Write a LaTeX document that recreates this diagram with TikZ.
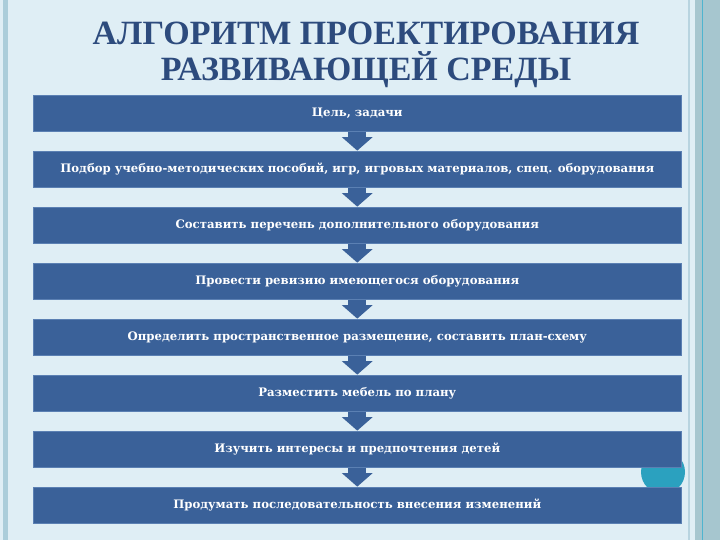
\documentclass[tikz,border=0pt]{standalone}
\usepackage{fontspec}
\setmainfont{DejaVu Serif}
\newfontfamily\titlefont{Liberation Serif}
\usetikzlibrary{arrows.meta}
\definecolor{bgc}{HTML}{DFEEF5}
\definecolor{boxc}{HTML}{3A6199}
\definecolor{boxedge}{HTML}{5B80B3}
\definecolor{titlec}{HTML}{2D4B7D}
\definecolor{stripc}{HTML}{ABCDDA}
\definecolor{sidec}{HTML}{A6C6CF}
\definecolor{tealc}{HTML}{4FB4CF}
\definecolor{circc}{HTML}{2BA1BF}
\tikzset{
  stepbox/.style={rectangle, fill=boxc, draw=boxedge, line width=0.7pt,
    minimum width=647.5pt, minimum height=36.5pt, inner sep=0pt,
    text=white, font=\fontsize{11.7}{13}\selectfont\bfseries},
  flowarrow/.style={draw=boxc, line width=18pt,
    -{Triangle[width=30pt,length=13.5pt]}, fill=boxc},
  titletext/.style={text=titlec, font=\titlefont\fontsize{34}{36}\selectfont\bfseries, inner sep=0pt, anchor=base}
}
\begin{document}
\begin{tikzpicture}[x=1pt,y=-1pt]
\useasboundingbox (0,0) rectangle (720,540);
% background
\fill[bgc] (0,0) rectangle (720,540);
\fill[stripc] (3.3,0) rectangle (8,540);
\fill[stripc!85!white] (688,0) rectangle (690,540);
\fill[sidec] (695,0) rectangle (702,540);
\fill[tealc] (702,0) rectangle (703.2,540);
\fill[sidec] (703.2,0) rectangle (720,540);
% decorative circle
\fill[circc] (663,472) circle (22);
% title
\node[titletext] (t1) at (366,45) {АЛГОРИТМ ПРОЕКТИРОВАНИЯ};
\node[titletext] (t2) at (366,81) {РАЗВИВАЮЩЕЙ СРЕДЫ};
% steps
\node[stepbox] (b1) at (357.25,113.25) {Цель, задачи};
\node[stepbox] (b2) at (357.25,169.25) {Подбор учебно-методических пособий, игр, игровых материалов, спец. оборудования};
\node[stepbox] (b3) at (357.25,225.25) {Составить перечень дополнительного оборудования};
\node[stepbox] (b4) at (357.25,281.25) {Провести ревизию имеющегося оборудования};
\node[stepbox] (b5) at (357.25,337.25) {Определить пространственное размещение, составить план-схему};
\node[stepbox] (b6) at (357.25,393.25) {Разместить мебель по плану};
\node[stepbox] (b7) at (357.25,449.25) {Изучить интересы и предпочтения детей};
\node[stepbox] (b8) at (357.25,505.25) {Продумать последовательность внесения изменений};
% arrows
\foreach \a/\b in {b1/b2,b2/b3,b3/b4,b4/b5,b5/b6,b6/b7,b7/b8}
  \draw[flowarrow] (\a.south) -- (\b.north);
\end{tikzpicture}
\end{document}
